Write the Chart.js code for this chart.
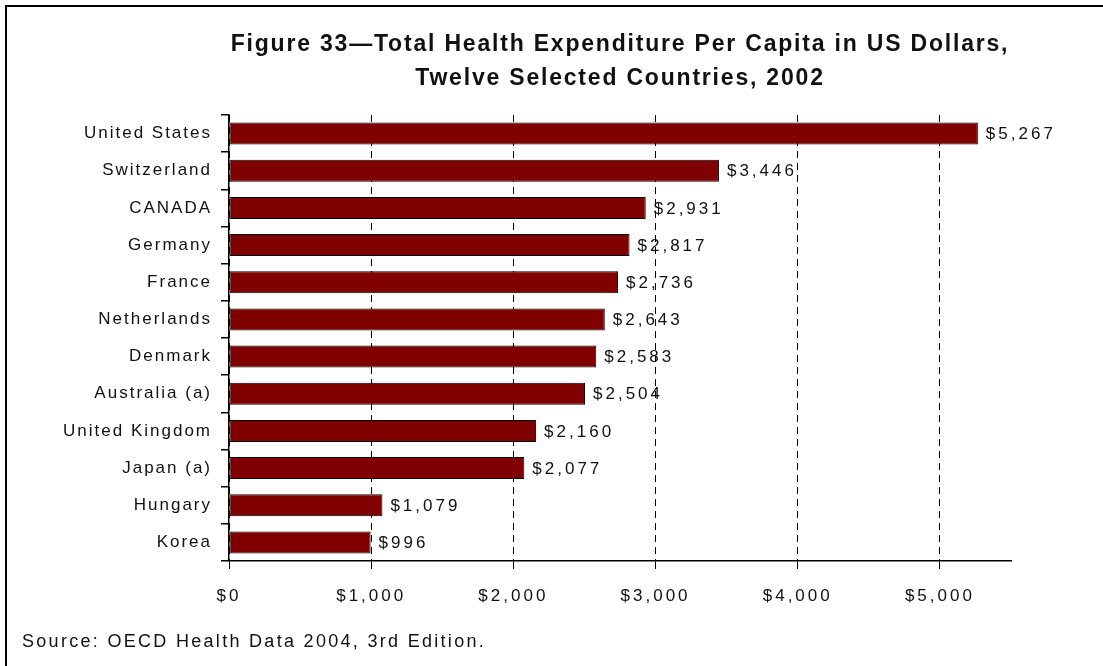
<!DOCTYPE html>
<html>
<head>
<meta charset="utf-8">
<title>Figure 33</title>
<script src="https://cdn.jsdelivr.net/npm/chart.js@4.4.1/dist/chart.umd.min.js"></script>
<style>
  html, body { margin: 0; padding: 0; background: #fff; }
  #wrap { position: relative; width: 1103px; height: 666px; overflow: hidden; }
  #frame {
    position: absolute; left: 5px; top: 5px; right: -10px; bottom: -10px;
    border-left: 2px solid #000; border-top: 2px solid #000;
    pointer-events: none;
  }
</style>
</head>
<body>
<div id="wrap">
  <canvas id="chart" width="1103" height="666"></canvas>
  <div id="frame"></div>
</div>
<script>
// data
const countries = [
  'United States', 'Switzerland', 'CANADA', 'Germany', 'France', 'Netherlands',
  'Denmark', 'Australia (a)', 'United Kingdom', 'Japan (a)', 'Hungary', 'Korea'
];
const spending = [5267, 3446, 2931, 2817, 2736, 2643, 2583, 2504, 2160, 2077, 1079, 996];
const tickValues = [0, 1000, 2000, 3000, 4000, 5000];
const axisMax = 5500;

const titleLines = [
  'Figure 33\u2014Total Health Expenditure Per Capita in US Dollars,',
  'Twelve Selected Countries, 2002'
];
const sourceNote = 'Source: OECD Health Data 2004, 3rd Edition.';

const FONT = '"Liberation Sans", Arial, Helvetica, sans-serif';
const dollars = v => '$' + Number(v).toLocaleString('en-US');

// canvas letterSpacing is part of ctx state, so we switch it between layers
const spacing = {
  id: 'spacing',
  beforeDraw(chart) { chart.ctx.letterSpacing = '2px'; },
  afterDatasetsDraw(chart) {
    const ctx = chart.ctx;
    const meta = chart.getDatasetMeta(0);
    ctx.save();
    ctx.letterSpacing = '3px';
    ctx.font = '17px ' + FONT;
    ctx.fillStyle = '#111';
    ctx.textAlign = 'left';
    ctx.textBaseline = 'middle';
    meta.data.forEach((bar, i) => {
      ctx.fillText(dollars(spending[i]), bar.x + 8, bar.y + 1);
    });
    ctx.restore();
    ctx.letterSpacing = '3px'; // x tick labels are drawn after this
  },
  afterDraw(chart) {
    const ctx = chart.ctx;
    const area = chart.chartArea;
    ctx.save();
    ctx.fillStyle = '#111';
    ctx.textBaseline = 'middle';
    ctx.textAlign = 'center';
    ctx.letterSpacing = '1.8px';
    ctx.font = 'bold 23px ' + FONT;
    const cx = (area.left + area.right) / 2;
    ctx.fillText(titleLines[0], cx, 45);
    ctx.fillText(titleLines[1], cx, 79);

    ctx.letterSpacing = '2.3px';
    ctx.textAlign = 'left';
    ctx.font = '18px ' + FONT;
    ctx.fillText(sourceNote, 22, 642);
    ctx.restore();
  }
};

new Chart(document.getElementById('chart'), {
  type: 'bar',
  data: {
    labels: countries,
    datasets: [{
      data: spending,
      backgroundColor: '#800000',
      borderColor: '#000',
      borderWidth: 1,
      borderSkipped: false,
      categoryPercentage: 1,
      barPercentage: 0.59
    }]
  },
  options: {
    indexAxis: 'y',
    responsive: false,
    animation: false,
    devicePixelRatio: 1,
    layout: { padding: { left: 0, right: 92, top: 115, bottom: 0 } },
    plugins: {
      legend: { display: false },
      title: { display: false },
      tooltip: { enabled: false }
    },
    scales: {
      x: {
        min: 0,
        max: axisMax,
        afterBuildTicks: s => { s.ticks = tickValues.map(v => ({ value: v })); },
        afterFit: s => { s.height = 105; },
        border: { display: true, color: '#000', width: 1.5, dash: [7, 5] },
        grid: {
          color: '#000',
          lineWidth: 1,
          tickLength: 8,
          tickColor: '#000',
          tickBorderDash: []
        },
        ticks: {
          z: 1,
          padding: 17,
          color: '#111',
          font: { family: FONT, size: 17 },
          maxRotation: 0,
          autoSkip: false,
          callback: v => dollars(v)
        }
      },
      y: {
        afterFit: s => { s.width = 229; },
        offset: true,
        border: { display: true, color: '#000', width: 1.5 },
        grid: {
          offset: true,
          drawOnChartArea: false,
          tickLength: 8,
          color: '#000',
          lineWidth: 1.5
        },
        ticks: {
          padding: 9,
          color: '#111',
          font: { family: FONT, size: 17 }
        }
      }
    }
  },
  plugins: [spacing]
});
</script>
</body>
</html>
